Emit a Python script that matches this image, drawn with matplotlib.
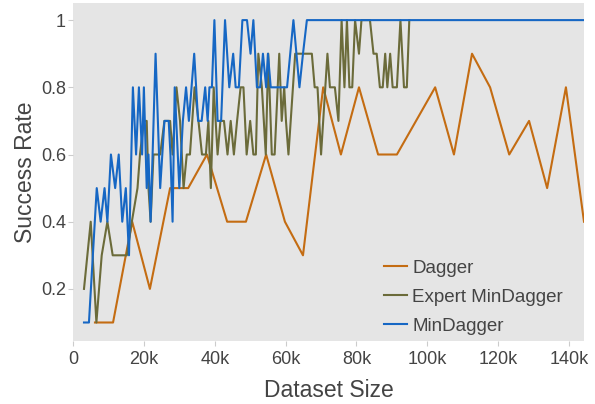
import matplotlib
matplotlib.use("Agg")
from matplotlib import pyplot as plt
from matplotlib.ticker import FuncFormatter

# dataset size in thousands, success rate per evaluation
dagger_x = [6.2, 11.3, 16.7, 21.7, 27.4, 32.5, 37.8, 43.5, 48.8, 54.5, 59.8, 64.9, 70.6, 75.6,
            80.7, 86.1, 91.4, 96.8, 102.2, 107.5, 112.6, 117.7, 123.1, 128.7, 133.8, 139.1, 144.2]
dagger_y = [0.1, 0.1, 0.4, 0.2, 0.5, 0.5, 0.6, 0.4, 0.4, 0.6, 0.4, 0.3, 0.8, 0.6,
            0.8, 0.6, 0.6, 0.7, 0.8, 0.6, 0.9, 0.8, 0.6, 0.7, 0.5, 0.8, 0.4]

expert_x = [3.1, 5.0, 6.6, 8.1, 9.7, 11.2, 12.4, 13.8, 15.2, 16.6, 18.2, 18.9, 20.0, 20.8,
            21.3, 21.9, 22.7, 23.7, 24.6, 25.8, 27.4, 28.1, 29.2, 30.2, 31.2, 32.1, 33.0, 34.3,
            35.4, 36.4, 37.5, 38.2, 38.9, 39.7, 40.8, 41.6, 42.6, 43.6, 44.5, 45.4, 46.3, 47.3,
            48.1, 49.0, 50.0, 50.9, 51.6, 52.3, 53.3, 54.4, 55.1, 56.1, 56.9, 58.2, 58.9, 59.6,
            60.1, 60.8, 62.7, 64.1, 65.5, 67.4, 68.2, 69.0, 70.0, 71.8, 72.5, 73.9, 74.9, 75.8,
            76.6, 77.3, 78.0, 78.8, 79.6, 80.7, 81.4, 82.1, 83.0, 83.8, 84.8, 85.7, 86.6, 87.4,
            88.1, 88.7, 89.5, 90.2, 91.4, 92.4, 93.4, 94.2, 94.9]
expert_y = [0.2, 0.4, 0.1, 0.3, 0.4, 0.3, 0.3, 0.3, 0.3, 0.4, 0.5, 0.6, 0.7, 0.7,
            0.5, 0.4, 0.6, 0.6, 0.6, 0.7, 0.7, 0.6, 0.8, 0.7, 0.5, 0.6, 0.6, 0.8,
            0.7, 0.6, 0.6, 0.7, 0.5, 0.8, 0.6, 0.7, 0.7, 0.6, 0.7, 0.6, 0.7, 0.8,
            0.8, 0.6, 0.7, 0.6, 0.6, 0.9, 0.8, 0.6, 0.9, 0.6, 0.6, 0.9, 0.7, 0.8,
            0.7, 0.6, 0.9, 0.9, 0.9, 0.9, 0.8, 0.8, 0.6, 0.9, 0.8, 0.8, 0.7, 1.0,
            0.8, 1.0, 0.8, 0.8, 1.0, 0.9, 1.0, 1.0, 1.0, 1.0, 0.9, 0.9, 0.8, 0.8,
            0.9, 0.8, 0.9, 0.8, 0.8, 1.0, 0.8, 0.8, 1.0]

min_x = [3.1, 4.5, 6.7, 7.8, 8.9, 9.7, 10.7, 11.9, 12.9, 13.9, 14.9, 15.8, 16.9, 17.8,
         18.6, 19.5, 20.0, 20.8, 21.3, 21.9, 23.3, 24.6, 25.8, 27.0, 27.5, 28.1, 28.7, 30.0,
         31.0, 31.9, 32.7, 34.2, 35.3, 36.3, 37.3, 38.0, 38.5, 39.2, 39.9, 40.8, 41.8, 42.9,
         44.1, 45.2, 45.9, 46.8, 47.8, 49.1, 50.1, 50.9, 51.9, 52.8, 53.6, 54.5, 55.0, 55.8,
         57.0, 58.1, 59.3, 60.4, 62.2, 63.9, 64.9, 66.0, 80.0, 100.0, 120.0, 144.2]
min_y = [0.1, 0.1, 0.5, 0.4, 0.5, 0.4, 0.6, 0.5, 0.6, 0.4, 0.5, 0.3, 0.8, 0.6,
         0.8, 0.6, 0.8, 0.5, 0.6, 0.4, 0.9, 0.5, 0.7, 0.7, 0.6, 0.4, 0.8, 0.5,
         0.7, 0.8, 0.7, 0.9, 0.7, 0.7, 0.8, 0.7, 0.8, 0.8, 1.0, 0.7, 0.7, 1.0,
         0.8, 0.9, 0.8, 0.8, 1.0, 1.0, 0.9, 1.0, 0.8, 0.8, 0.9, 0.8, 0.9, 0.8,
         0.8, 0.8, 0.8, 0.8, 1.0, 0.8, 0.9, 1.0, 1.0, 1.0, 1.0, 1.0]

yticks = [0.2, 0.4, 0.6, 0.8, 1.0]
ytick_labels = ["0.2", "0.4", "0.6", "0.8", "1"]
xticks = [0, 20, 40, 60, 80, 100, 120, 140]

plt.rcParams['font.family'] = ['Liberation Sans', 'DejaVu Sans']
text_color = '#444444'

fig = plt.figure(figsize=(5.95, 4.04), dpi=100)
ax = fig.add_axes([0.1227, 0.156, 0.8588, 0.8358])
ax.set_facecolor('#e5e5e5')

ax.plot(dagger_x, dagger_y, color='#c46c12', lw=1.5, label='Dagger')
ax.plot(expert_x, expert_y, color='#6b6b3a', lw=1.5, label='Expert MinDagger')
ax.plot(min_x, min_y, color='#1667c4', lw=1.5, label='MinDagger')

ax.set_xlim(0, 144.2)
ax.set_ylim(0.045, 1.05)
ax.set_xticks(xticks)
ax.xaxis.set_major_formatter(FuncFormatter(lambda v, p: '0' if v == 0 else f'{int(v)}k'))
ax.set_yticks(yticks)
ax.set_yticklabels(ytick_labels)

for s in ax.spines.values():
    s.set_visible(False)
ax.tick_params(axis='both', length=3.6, width=0.8, color='#cccccc', labelcolor=text_color,
               labelsize=13)
ax.tick_params(axis='x', pad=3.5)
ax.tick_params(axis='y', pad=1.5)

ax.set_xlabel('Dataset Size', fontsize=16.5, color=text_color, labelpad=8)
ax.set_ylabel('Success Rate', fontsize=16.5, color=text_color, labelpad=3)

ax.legend(loc='upper left', bbox_to_anchor=(0.6086, 0.241), frameon=False, fontsize=13.5,
          borderpad=0, borderaxespad=0, handlelength=1.23, handletextpad=0.27,
          labelspacing=0.63, labelcolor=text_color)

plt.savefig('out.png', dpi=100)
